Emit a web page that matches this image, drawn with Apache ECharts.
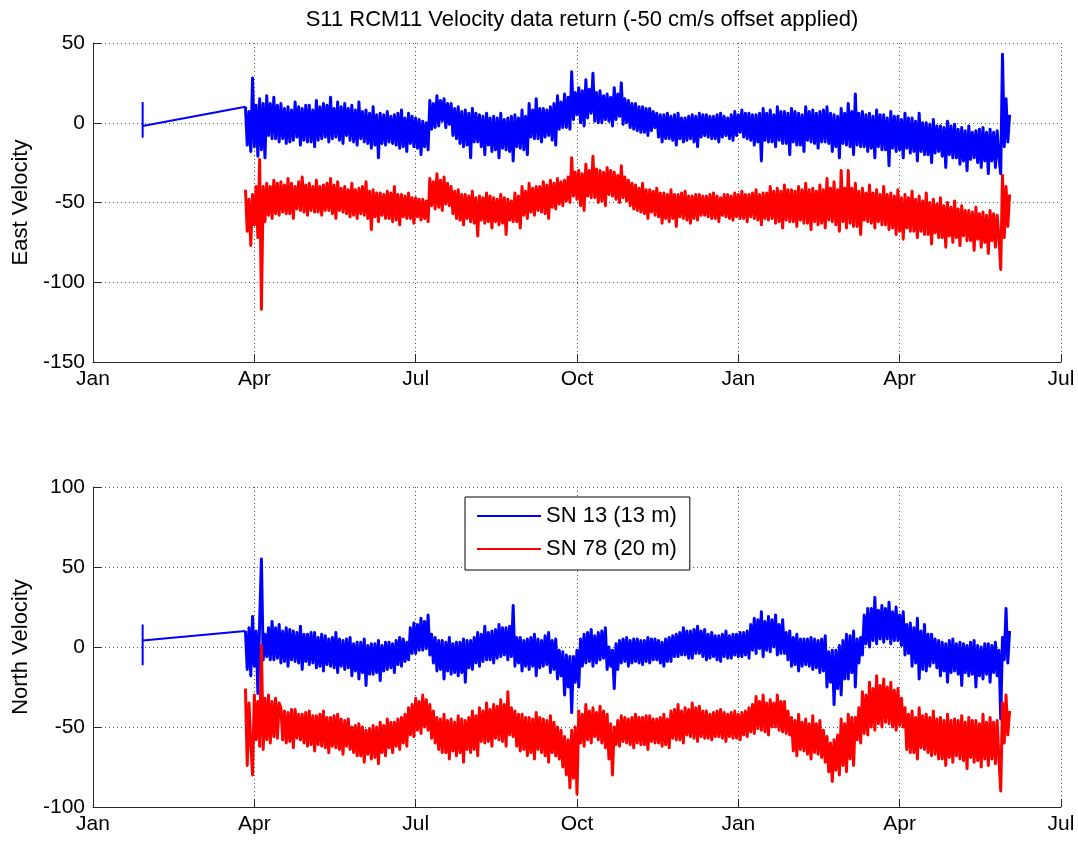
<!DOCTYPE html>
<html style="width:100%;height:100%">
<head>
    <meta charset="UTF-8">
    <title>S11 RCM11 velocity</title>
    <script type="text/javascript" src="https://cdn.jsdelivr.net/npm/echarts@6/dist/echarts.min.js"></script>
</head>
<body style="margin:0;width:100%;height:100%;overflow:hidden;background:#fff">
    <div id="chart" style="width:1078px;height:843px"></div>

    <script type="text/javascript">
        // x = days since Jan 1 of the first year, ticks every quarter (~91 days)
        var tickNames = ['Jan', 'Apr', 'Jul', 'Oct', 'Jan', 'Apr', 'Jul'];
        var seriesNames = ['SN 13 (13 m)', 'SN 78 (20 m)'];

        // a few early samples from SN 13 before the main record
        var leadDays = [28, 28, 28];
        var eastLead13 = [13, -9, -2];
        var northLead13 = [14, -11, 4];

        // main record, one value a day from day 86 (late March) to day 517
        var sampleStart = 86;
        var sampleStep = 1;

        var east13 = [
            10, -14, 7, -18, 28, -15, 11, -21, 15, -17, 12, -22, 17, -8, 12, -10, 16, -10, 11, -12,
            12, -10, 9, -13, 10, -12, 8, -11, 13, -9, 10, -14, 9, -11, 11, -12, 11, -12, 8, -15,
            14, -11, 10, -10, 12, -9, 11, -12, 16, -10, 9, -9, 13, -11, 10, -13, 12, -8, 9, -11,
            11, -12, 8, -14, 13, -10, 7, -12, 8, -13, 6, -16, 10, -14, 5, -22, 6, -13, 5, -14,
            7, -12, 4, -13, 5, -14, 6, -16, 8, -15, 3, -18, 6, -13, 4, -15, 3, -16, 2, -20,
            1, -15, 0, -17, 14, -4, 12, -3, 17, -2, 14, 1, 15, -3, 12, -1, 12, -8, 9, -10,
            10, -13, 7, -15, 8, -14, 6, -22, 9, -12, 6, -12, 5, -15, 4, -20, 6, -14, 3, -18,
            4, -17, 3, -22, 6, -16, 2, -17, 3, -18, 4, -24, 5, -15, 3, -16, 8, -17, 4, -20,
            12, -9, 8, -10, 15, -10, 9, -12, 9, -9, 8, -8, 10, -11, 12, -14, 17, -4, 13, -3,
            18, -3, 16, -4, 32, 2, 19, 5, 22, 0, 20, -2, 27, 3, 21, 6, 31, 1, 19, 0,
            20, 0, 17, 2, 18, 1, 16, -2, 22, 2, 18, 4, 25, -1, 15, 0, 14, -3, 12, -4,
            12, -5, 10, -6, 10, -6, 9, -8, 9, -5, 7, -3, 6, -9, 5, -12, 5, -10, 6, -10,
            4, -11, 5, -14, 6, -10, 3, -12, 3, -11, 4, -10, 5, -12, 4, -15, 6, -9, 5, -8,
            5, -9, 4, -10, 4, -10, 5, -12, 6, -9, 4, -8, 3, -10, 5, -11, 7, -8, 5, -6,
            8, -9, 6, -10, 6, -11, 5, -14, 5, -12, 6, -24, 9, -11, 6, -12, 8, -12, 5, -15,
            10, -11, 7, -13, 7, -13, 6, -20, 9, -12, 7, -14, 6, -14, 5, -18, 10, -11, 7, -12,
            8, -13, 6, -16, 7, -12, 8, -12, 10, -13, 6, -18, 5, -15, 4, -22, 9, -13, 6, -14,
            12, -15, 7, -20, 18, -14, 6, -15, 7, -15, 5, -18, 6, -16, 4, -22, 8, -15, 5, -17,
            5, -17, 3, -27, 7, -16, 4, -18, 4, -17, 2, -22, 6, -16, 3, -19, 3, -18, 1, -24,
            6, -18, 0, -20, 0, -20, -1, -25, 2, -19, -2, -18, -2, -21, -3, -28, 1, -20, -2, -22,
            -1, -22, -4, -26, -3, -24, -5, -30, -2, -23, -6, -22, -5, -25, -4, -28, -3, -24, -6, -32,
            -4, -24, -6, -28, -5, -22, -32, 43, -15, 15, -12, 5
        ];
        var east78 = [
            -42, -68, -48, -77, -45, -64, -40, -72, -23, -117, -40, -62, -38, -58, -40, -60, -36, -57, -38, -58,
            -37, -56, -39, -57, -35, -57, -38, -60, -40, -54, -37, -55, -34, -56, -39, -58, -38, -55, -40, -56,
            -36, -56, -40, -58, -39, -55, -38, -55, -35, -57, -39, -60, -37, -55, -41, -56, -40, -57, -42, -59,
            -38, -58, -42, -60, -41, -57, -40, -58, -37, -60, -43, -67, -42, -59, -44, -62, -44, -58, -45, -60,
            -43, -60, -44, -62, -40, -61, -45, -64, -45, -59, -46, -60, -44, -60, -47, -63, -47, -59, -48, -61,
            -48, -60, -49, -62, -35, -52, -37, -54, -32, -53, -36, -55, -34, -51, -38, -52, -40, -57, -43, -60,
            -42, -61, -45, -64, -45, -60, -46, -62, -43, -63, -47, -71, -46, -61, -47, -63, -44, -62, -46, -66,
            -47, -62, -48, -64, -45, -63, -47, -70, -48, -61, -49, -62, -44, -62, -46, -66, -40, -58, -43, -60,
            -38, -56, -41, -58, -40, -55, -40, -56, -37, -57, -39, -60, -36, -53, -38, -54, -35, -51, -37, -52,
            -36, -49, -34, -50, -22, -46, -31, -48, -30, -52, -32, -55, -26, -46, -30, -47, -21, -47, -29, -50,
            -30, -49, -31, -52, -28, -45, -30, -46, -31, -48, -33, -50, -27, -47, -34, -49, -36, -52, -38, -54,
            -39, -55, -41, -56, -38, -57, -42, -60, -42, -56, -43, -58, -41, -59, -44, -63, -44, -60, -45, -62,
            -42, -60, -45, -65, -45, -59, -44, -60, -43, -61, -46, -63, -46, -60, -45, -61, -45, -58, -46, -58,
            -46, -59, -45, -60, -44, -60, -46, -62, -47, -58, -45, -59, -45, -60, -46, -61, -44, -59, -45, -60,
            -43, -60, -45, -62, -45, -59, -44, -60, -42, -61, -45, -64, -44, -60, -44, -61, -40, -60, -43, -63,
            -41, -62, -43, -66, -39, -61, -42, -62, -42, -62, -43, -65, -40, -61, -42, -63, -38, -63, -42, -67,
            -41, -62, -43, -64, -39, -63, -42, -66, -35, -61, -41, -62, -37, -64, -42, -68, -30, -62, -41, -66,
            -30, -63, -41, -65, -38, -65, -43, -70, -41, -61, -44, -62, -39, -63, -44, -66, -42, -62, -45, -64,
            -40, -64, -45, -67, -44, -66, -46, -70, -42, -68, -47, -73, -45, -66, -47, -68, -43, -68, -48, -72,
            -46, -68, -49, -70, -44, -70, -50, -76, -48, -69, -51, -72, -47, -72, -52, -78, -50, -71, -53, -75,
            -49, -72, -54, -77, -52, -71, -55, -74, -55, -74, -56, -80, -53, -73, -57, -78, -56, -75, -58, -82,
            -55, -74, -57, -78, -58, -72, -92, -33, -72, -40, -65, -45
        ];
        var north13 = [
            10, -14, 12, -18, 19, -12, 10, -29, 16, 55, -8, 8, -6, 12, -8, 16, -8, 12, -7, 14,
            -10, 10, -9, 12, -12, 11, -8, 10, -9, 9, -10, 13, -14, 8, -9, 8, -11, 9, -10, 9,
            -13, 6, -12, 8, -15, 7, -11, 5, -12, 6, -13, 9, -16, 5, -12, 4, -14, 5, -13, 6,
            -18, 2, -15, 3, -20, 3, -16, 5, -24, 1, -17, 2, -17, 2, -16, 4, -21, 1, -15, 3,
            -14, 3, -13, 2, -16, 4, -11, 6, -12, 5, -9, 3, -8, 12, -4, 15, -4, 14, -2, 18,
            -2, 16, -1, 20, -5, 8, -10, 6, -15, 4, -14, 4, -20, 3, -15, 6, -17, 2, -16, 3,
            -18, 3, -16, 5, -22, 4, -13, 4, -14, 6, -10, 9, -12, 8, -9, 13, -8, 9, -8, 10,
            -10, 11, -7, 14, -6, 12, -5, 12, -8, 13, -6, 26, -12, 6, -10, 6, -15, 4, -12, 5,
            -14, 6, -12, 8, -18, 5, -13, 4, -12, 7, -11, 9, -16, 4, -14, 5, -20, -2, -18, -3,
            -30, -5, -25, -6, -41, -6, -22, -2, -25, 5, -12, 8, -10, 9, -9, 11, -12, 7, -10, 9,
            -8, 10, -7, 12, -14, 0, -12, -2, -26, 2, -14, 4, -10, 5, -9, 6, -12, 4, -10, 5,
            -9, 5, -10, 4, -11, 4, -9, 6, -10, 5, -8, 5, -8, 4, -10, 3, -12, 5, -9, 6,
            -9, 7, -6, 8, -6, 9, -5, 12, -5, 10, -7, 10, -7, 11, -4, 13, -4, 10, -6, 11,
            -8, 8, -7, 9, -6, 7, -8, 7, -9, 8, -6, 10, -7, 7, -7, 8, -5, 8, -6, 9,
            -6, 9, -5, 10, -7, 14, -2, 18, -4, 17, -1, 22, -6, 16, -2, 19, -3, 17, 0, 20,
            -5, 14, -4, 17, -4, 9, -8, 10, -12, 6, -11, 8, -15, 5, -12, 5, -11, 5, -12, 6,
            -14, 5, -13, 4, -16, 5, -15, 7, -25, -3, -22, -2, -36, -2, -26, 1, -30, 4, -20, 8,
            -20, 7, -16, 10, -25, 5, -10, 6, -5, 20, 2, 24, 0, 24, 4, 31, 2, 23, 5, 26,
            3, 24, 5, 28, 2, 22, 4, 25, 4, 20, 1, 22, -5, 14, -4, 15, -12, 12, -10, 18,
            -20, 10, -14, 14, -15, 8, -12, 8, -10, 5, -13, 4, -18, 3, -15, 2, -22, 4, -16, 5,
            -15, 2, -17, 3, -24, 2, -16, 1, -18, 3, -17, 4, -25, 1, -18, 0, -20, 2, -17, 2,
            -22, 1, -16, 3, -18, -2, -45, 6, -8, 24, -10, 10
        ];
        var north78 = [
            -26, -74, -35, -60, -80, -30, -58, -34, -62, 1, -64, -32, -58, -30, -60, -34, -56, -32, -57, -35,
            -38, -58, -40, -60, -41, -59, -39, -63, -39, -57, -42, -58, -42, -60, -41, -62, -40, -61, -43, -65,
            -43, -61, -42, -62, -40, -63, -44, -66, -44, -62, -43, -63, -42, -64, -45, -67, -46, -62, -45, -64,
            -50, -66, -49, -68, -48, -68, -50, -72, -52, -67, -51, -70, -49, -69, -50, -73, -47, -66, -49, -68,
            -45, -63, -47, -66, -47, -62, -45, -64, -44, -60, -42, -62, -38, -55, -36, -56, -32, -52, -34, -54,
            -30, -50, -33, -52, -36, -57, -40, -60, -44, -64, -45, -66, -42, -66, -46, -70, -45, -65, -47, -68,
            -43, -66, -45, -72, -46, -64, -44, -66, -40, -64, -43, -68, -38, -59, -40, -60, -35, -59, -39, -62,
            -36, -57, -37, -58, -33, -59, -36, -62, -28, -55, -38, -56, -40, -62, -42, -65, -42, -64, -44, -68,
            -44, -66, -45, -70, -41, -64, -44, -66, -45, -68, -46, -72, -43, -66, -47, -68, -50, -70, -52, -75,
            -56, -80, -58, -88, -52, -82, -50, -92, -40, -60, -42, -62, -36, -58, -40, -60, -38, -56, -41, -58,
            -37, -60, -40, -63, -42, -70, -48, -80, -50, -61, -46, -62, -43, -59, -44, -60, -45, -61, -44, -63,
            -42, -60, -44, -61, -44, -61, -43, -64, -43, -59, -45, -60, -45, -60, -44, -62, -42, -61, -45, -63,
            -40, -57, -39, -58, -36, -58, -40, -60, -38, -55, -39, -56, -35, -57, -38, -59, -37, -56, -40, -57,
            -40, -57, -42, -58, -41, -56, -40, -56, -39, -57, -41, -59, -42, -56, -41, -57, -40, -57, -42, -58,
            -41, -55, -40, -56, -38, -53, -36, -54, -31, -51, -34, -52, -30, -53, -35, -55, -33, -50, -35, -50,
            -30, -52, -34, -53, -34, -54, -40, -55, -44, -65, -46, -68, -42, -64, -47, -65, -45, -67, -48, -70,
            -43, -66, -48, -67, -46, -69, -52, -72, -56, -78, -60, -84, -58, -77, -55, -80, -45, -74, -48, -78,
            -42, -70, -44, -74, -44, -58, -38, -60, -28, -54, -30, -55, -22, -50, -26, -52, -18, -48, -24, -50,
            -20, -47, -25, -48, -22, -50, -27, -52, -26, -49, -32, -50, -38, -64, -42, -66, -40, -66, -44, -70,
            -38, -63, -43, -64, -42, -66, -44, -68, -40, -67, -45, -70, -44, -70, -46, -74, -42, -69, -46, -72,
            -45, -68, -46, -70, -43, -71, -47, -76, -44, -69, -46, -72, -46, -71, -48, -75, -42, -70, -47, -74,
            -44, -70, -47, -73, -46, -70, -90, -35, -60, -30, -55, -40
        ];

        var font = 'Liberation Sans, Arial, Helvetica, sans-serif';
        var axisColor = '#262626';

        function samplePoints(values) {
            return values.map(function (v, i) { return [sampleStart + i * sampleStep, v]; });
        }

        // lead samples, joined to the first sample of the main record
        function leadPoints(leadVals, values) {
            var pts = leadVals.map(function (v, k) { return [leadDays[k], v]; });
            pts.push([sampleStart, values[0]]);
            return pts;
        }

        function makeX(idx) {
            return {
                gridIndex: idx,
                type: 'value',
                min: 0,
                max: 546,
                interval: 91,
                axisLine: { show: true, onZero: false, lineStyle: { color: axisColor, width: 1 } },
                axisTick: { show: true, inside: true, length: 8, lineStyle: { color: axisColor } },
                axisLabel: {
                    color: '#000', fontSize: 21, fontFamily: font, margin: 7,
                    showMinLabel: true, showMaxLabel: true,
                    formatter: function (v) { return tickNames[Math.round(v / 91)]; }
                },
                splitLine: { show: true, lineStyle: { color: '#555', type: [1, 3], width: 1 } }
            };
        }

        function makeY(idx, min, max, name) {
            return {
                gridIndex: idx,
                type: 'value',
                min: min,
                max: max,
                interval: 50,
                name: name,
                nameLocation: 'middle',
                nameGap: 58,
                nameTextStyle: { color: '#000', fontSize: 22, fontFamily: font },
                axisLine: { show: true, lineStyle: { color: axisColor, width: 1 } },
                axisTick: { show: true, inside: true, length: 8, lineStyle: { color: axisColor } },
                axisLabel: { color: '#000', fontSize: 21, fontFamily: font, margin: 8 },
                splitLine: { show: true, lineStyle: { color: '#555', type: [1, 3], width: 1 } }
            };
        }

        function makeSeries(name, color, idx, pts, width) {
            return {
                name: name,
                type: 'line',
                xAxisIndex: idx,
                yAxisIndex: idx,
                data: pts,
                symbol: 'none',
                showSymbol: false,
                sampling: null,
                itemStyle: { color: color },
                lineStyle: { color: color, width: width, join: 'round' },
                silent: true
            };
        }

        var myChart = echarts.init(document.getElementById('chart'));

        option = {
            animation: false,
            backgroundColor: '#fff',
            title: {
                text: 'S11 RCM11 Velocity data return (-50 cm/s offset applied)',
                left: 577,
                textAlign: 'center',
                top: 4,
                textStyle: { color: '#000', fontSize: 22, fontWeight: 'normal', fontFamily: font }
            },
            legend: {
                data: seriesNames,
                orient: 'vertical',
                left: 465,
                top: 497,
                icon: 'rect',
                itemWidth: 64,
                itemHeight: 2,
                itemGap: 11,
                padding: [8, 13, 10, 12],
                borderColor: '#000',
                borderWidth: 1,
                backgroundColor: '#fff',
                textStyle: { color: '#000', fontSize: 22, fontFamily: font },
                z: 10
            },
            grid: [
                { left: 93, right: 17, top: 43, height: 319 },
                { left: 93, right: 17, top: 487, height: 320 }
            ],
            xAxis: [makeX(0), makeX(1)],
            yAxis: [
                makeY(0, -150, 50, 'East Velocity'),
                makeY(1, -100, 100, 'North Velocity')
            ],
            series: [
                makeSeries(seriesNames[0], '#0000ff', 0, leadPoints(eastLead13, east13), 2),
                makeSeries(seriesNames[0], '#0000ff', 0, samplePoints(east13), 3),
                makeSeries(seriesNames[1], '#ff0000', 0, samplePoints(east78), 3),
                makeSeries(seriesNames[0], '#0000ff', 1, leadPoints(northLead13, north13), 2),
                makeSeries(seriesNames[0], '#0000ff', 1, samplePoints(north13), 3),
                makeSeries(seriesNames[1], '#ff0000', 1, samplePoints(north78), 3)
            ]
        };

        myChart.setOption(option);
    </script>
</body>
</html>
